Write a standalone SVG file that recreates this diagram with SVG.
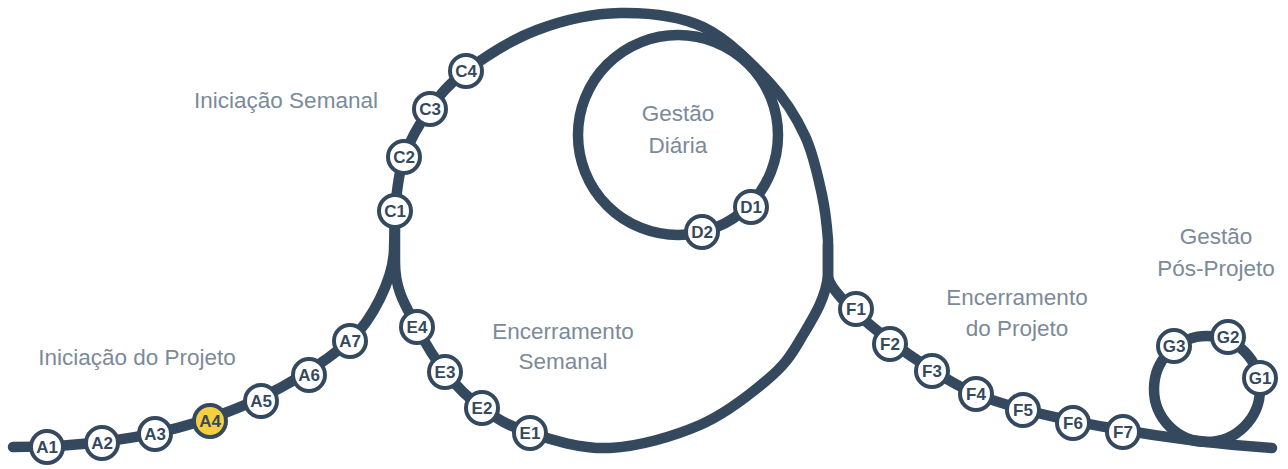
<svg xmlns="http://www.w3.org/2000/svg" width="1288" height="469" viewBox="0 0 1288 469">
<style>
.track{fill:none;stroke:#34495e;stroke-width:10.5;stroke-linecap:round;stroke-linejoin:round}
.node circle{fill:#ffffff;stroke:#34495e;stroke-width:4}
.node text{font-family:"Liberation Sans",Arial,sans-serif;font-weight:bold;font-size:17px;fill:#34495e;text-anchor:middle}
.node.hl circle{fill:#f4d03f}
.lbl{font-family:"Liberation Sans",Arial,sans-serif;font-size:22.5px;fill:#7b8a99;text-anchor:middle}
</style>
<rect width="1288" height="469" fill="#ffffff"/>
<g id="connectors">
<path class="track" d="M13,447 C150,447 260,415 350,341 C372,320 393,280 394,250 L395,211"/>
<path class="track" d="M395,211 C396.5,193 398.2,174 404,157 C409.8,140 419.7,123.3 430,109 C440.3,94.7 448.2,84.2 466,71 C483.8,57.8 511.3,39.7 537,30 C562.7,20.3 592.3,13.5 620,13 C647.7,12.5 678,15.3 703,27 C728,38.7 753,64.8 770,83 C787,101.2 796.3,117.3 805,136 C813.7,154.7 818.2,177.7 822,195 C825.8,212.3 827,226.7 828,240 L828,275 C828,300 930,375 976,394 C1040,420 1180,442 1272,448"/>
<path class="track" d="M395,225 L395,262 C395,290 405,305 417,327 C425.2,343.2 434.2,358.5 445,372 C455.8,385.5 467.8,397.8 482,408 C496.2,418.2 508.7,426.3 530,433 C551.3,439.7 581.7,449.3 610,448 C638.3,446.7 673.8,436.3 700,425 C726.2,413.7 750.3,394.2 767,380 C783.7,365.8 789.8,357.5 800,340 C810.2,322.5 826,300 828,275 L828,245"/>
<circle class="track" cx="678" cy="135" r="100"/>
<circle class="track" cx="1207" cy="389" r="53"/>
</g>
<g id="labels">
<text class="lbl" x="286" y="108">Iniciação Semanal</text>
<text class="lbl" x="678" y="121">Gestão</text>
<text class="lbl" x="678" y="153">Diária</text>
<text class="lbl" x="137" y="365">Iniciação do Projeto</text>
<text class="lbl" x="563" y="339">Encerramento</text>
<text class="lbl" x="563" y="369">Semanal</text>
<text class="lbl" x="1017" y="305">Encerramento</text>
<text class="lbl" x="1017" y="336">do Projeto</text>
<text class="lbl" x="1216" y="244">Gestão</text>
<text class="lbl" x="1216" y="276">Pós-Projeto</text>
</g>
<g id="A1" class="node"><circle cx="47" cy="447" r="16"/><text x="47" y="453">A1</text></g>
<g id="A2" class="node"><circle cx="102" cy="443" r="16"/><text x="102" y="449">A2</text></g>
<g id="A3" class="node"><circle cx="155" cy="434" r="16"/><text x="155" y="440">A3</text></g>
<g id="A4" class="node hl"><circle cx="210" cy="421" r="16"/><text x="210" y="427">A4</text></g>
<g id="A5" class="node"><circle cx="261" cy="401" r="16"/><text x="261" y="407">A5</text></g>
<g id="A6" class="node"><circle cx="309" cy="375" r="16"/><text x="309" y="381">A6</text></g>
<g id="A7" class="node"><circle cx="350" cy="341" r="16"/><text x="350" y="347">A7</text></g>
<g id="C1" class="node"><circle cx="395" cy="211" r="16"/><text x="395" y="217">C1</text></g>
<g id="C2" class="node"><circle cx="404" cy="157" r="16"/><text x="404" y="163">C2</text></g>
<g id="C3" class="node"><circle cx="430" cy="109" r="16"/><text x="430" y="115">C3</text></g>
<g id="C4" class="node"><circle cx="466" cy="71" r="16"/><text x="466" y="77">C4</text></g>
<g id="D1" class="node"><circle cx="751" cy="207" r="16"/><text x="751" y="213">D1</text></g>
<g id="D2" class="node"><circle cx="702" cy="232" r="16"/><text x="702" y="238">D2</text></g>
<g id="E4" class="node"><circle cx="417" cy="327" r="16"/><text x="417" y="333">E4</text></g>
<g id="E3" class="node"><circle cx="445" cy="372" r="16"/><text x="445" y="378">E3</text></g>
<g id="E2" class="node"><circle cx="482" cy="408" r="16"/><text x="482" y="414">E2</text></g>
<g id="E1" class="node"><circle cx="530" cy="433" r="16"/><text x="530" y="439">E1</text></g>
<g id="F1" class="node"><circle cx="856" cy="309" r="16"/><text x="856" y="315">F1</text></g>
<g id="F2" class="node"><circle cx="890" cy="344" r="16"/><text x="890" y="350">F2</text></g>
<g id="F3" class="node"><circle cx="932" cy="371" r="16"/><text x="932" y="377">F3</text></g>
<g id="F4" class="node"><circle cx="976" cy="394" r="16"/><text x="976" y="400">F4</text></g>
<g id="F5" class="node"><circle cx="1023" cy="410" r="16"/><text x="1023" y="416">F5</text></g>
<g id="F6" class="node"><circle cx="1073" cy="423" r="16"/><text x="1073" y="429">F6</text></g>
<g id="F7" class="node"><circle cx="1123" cy="432" r="16"/><text x="1123" y="438">F7</text></g>
<g id="G1" class="node"><circle cx="1260" cy="378" r="16"/><text x="1260" y="384">G1</text></g>
<g id="G2" class="node"><circle cx="1228" cy="337" r="16"/><text x="1228" y="343">G2</text></g>
<g id="G3" class="node"><circle cx="1174" cy="346" r="16"/><text x="1174" y="352">G3</text></g>
</svg>
